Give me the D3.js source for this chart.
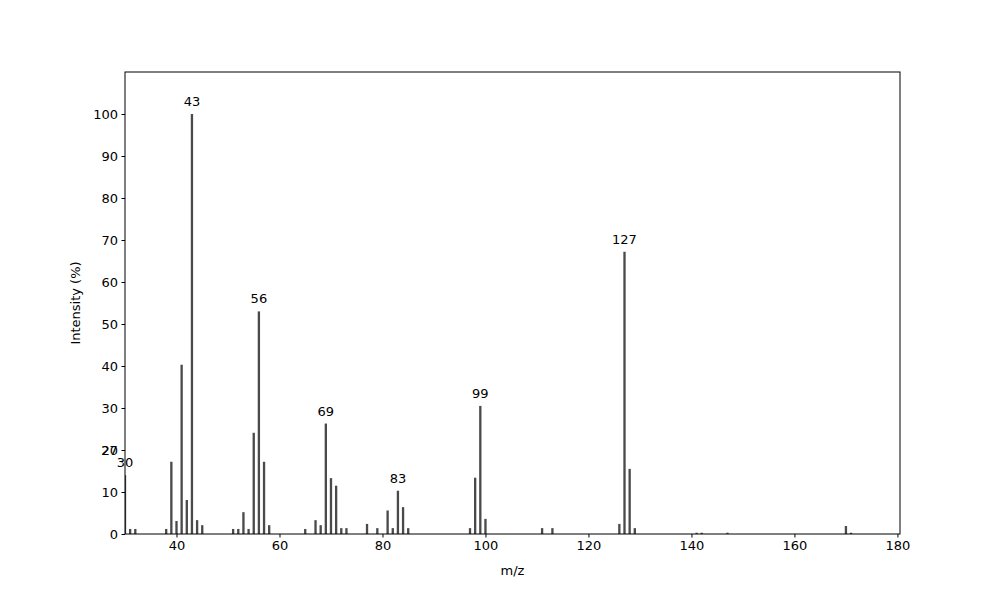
<!DOCTYPE html>
<html>
<head>
<meta charset="utf-8">
<script src="https://cdn.jsdelivr.net/npm/d3@7"></script>
<style>
  body { margin: 0; background: #fff; }
  text { font-family: "DejaVu Sans", sans-serif; }
</style>
</head>
<body>
<svg id="chart" width="1000" height="600"></svg>
<script>
// Peaks (m/z, relative intensity %).
const mz = [27, 30, 31, 32, 38, 39, 40, 41, 42, 43, 44, 45, 51, 52, 53, 54, 55, 56, 57, 58,
  65, 67, 68, 69, 70, 71, 72, 73, 77, 79, 81, 82, 83, 84, 85,
  97, 98, 99, 100, 111, 113, 126, 127, 128, 129, 141, 142, 147, 170, 171];
const intensity = [17, 14, 1.2, 1.2, 1.2, 17.2, 3.1, 40.3, 8.1, 100, 3.3, 2.1, 1.2, 1.2, 5.2, 1.2, 24.1, 53, 17.2, 2.1,
  1.2, 3.3, 2.1, 26.3, 13.3, 11.5, 1.4, 1.4, 2.4, 1.4, 5.6, 1.4, 10.3, 6.4, 1.4,
  1.4, 13.4, 30.5, 3.6, 1.4, 1.4, 2.4, 67.2, 15.5, 1.4, 0.3, 0.3, 0.3, 1.9, 0.3];
const labelled = [27, 30, 43, 56, 69, 83, 99, 127];
const xTicks = [40, 60, 80, 100, 120, 140, 160, 180];
const yTicks = [0, 10, 20, 30, 40, 50, 60, 70, 80, 90, 100];

const margin = { top: 72, right: 100, bottom: 66, left: 125 };
const width = 1000 - margin.left - margin.right;
const height = 600 - margin.top - margin.bottom;

const peaks = mz.map((d, i) => [d, intensity[i]]);

const x = d3.scaleLinear().domain([30, 180.5]).range([0, width]);
const y = d3.scaleLinear().domain([0, 110]).range([height, 0]);

const svg = d3.select('#chart');
const g = svg.append('g').attr('transform', `translate(${margin.left}, ${margin.top})`);

g.append('clipPath').attr('id', 'clip')
  .append('rect').attr('width', width).attr('height', height);

// Bars.
const barW = x(30.45) - x(30);
g.append('g').attr('clip-path', 'url(#clip)')
  .selectAll('rect')
  .data(peaks)
  .join('rect')
  .attr('x', d => x(d[0]) - barW / 2)
  .attr('y', d => y(d[1]))
  .attr('width', barW)
  .attr('height', d => height - y(d[1]))
  .attr('fill', '#4a4a4a');

// Peak labels.
g.append('g')
  .selectAll('text')
  .data(peaks.filter(d => labelled.includes(d[0])))
  .join('text')
  .attr('x', d => x(d[0]))
  .attr('y', d => y(d[1]) - 8)
  .attr('text-anchor', 'middle')
  .style('font-size', '13px')
  .text(d => d[0]);

// Axes.
const xAxis = g.append('g').attr('transform', `translate(0, ${height})`)
  .call(d3.axisBottom(x).tickValues(xTicks).tickSize(3.5).tickPadding(3.5));
const yAxis = g.append('g')
  .call(d3.axisLeft(y).tickValues(yTicks).tickSize(3.5).tickPadding(3.5));
[xAxis, yAxis].forEach(a => {
  a.selectAll('text').style('font-size', '13px').attr('fill', '#000');
  a.select('.domain').remove();
});

g.append('rect')
  .attr('width', width).attr('height', height)
  .attr('fill', 'none').attr('stroke', '#000').attr('stroke-width', 1);

// Axis titles.
g.append('text')
  .attr('x', width / 2).attr('y', height + 41)
  .attr('text-anchor', 'middle').style('font-size', '13px')
  .text('m/z');
g.append('text')
  .attr('transform', `translate(-45, ${height / 2}) rotate(-90)`)
  .attr('text-anchor', 'middle').style('font-size', '13px')
  .text('Intensity (%)');
</script>
</body>
</html>
